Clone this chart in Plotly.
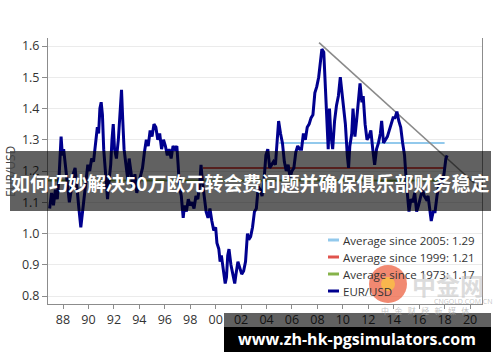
import plotly.graph_objects as go

# ---------------- data ----------------
years = [1986.95, 1987.1, 1987.25, 1987.4, 1987.55, 1987.7, 1987.85, 1987.95, 1988.05, 1988.2,
         1988.35, 1988.5, 1988.65, 1988.8, 1988.95, 1989.1, 1989.25, 1989.4, 1989.5, 1989.65,
         1989.8, 1989.95, 1990.1, 1990.25, 1990.4, 1990.55, 1990.7, 1990.8, 1990.9, 1991.0,
         1991.1, 1991.2, 1991.35, 1991.5, 1991.6, 1991.75, 1991.85, 1991.95, 1992.05, 1992.2,
         1992.35, 1992.5, 1992.6, 1992.7, 1992.8, 1992.95, 1993.1, 1993.2, 1993.35, 1993.5,
         1993.65, 1993.8, 1993.95, 1994.1, 1994.25, 1994.4, 1994.55, 1994.7, 1994.85, 1995.0,
         1995.15, 1995.3, 1995.45, 1995.6, 1995.75, 1995.9, 1996.05, 1996.2, 1996.35, 1996.5,
         1996.65, 1996.8, 1996.95, 1997.05, 1997.15, 1997.3, 1997.45, 1997.55, 1997.7, 1997.85,
         1998.0, 1998.15, 1998.3, 1998.45, 1998.6, 1998.75, 1998.85, 1998.95, 1999.1, 1999.25,
         1999.4, 1999.55, 1999.7, 1999.85, 2000.0, 2000.1, 2000.25, 2000.35, 2000.45, 2000.6,
         2000.75, 2000.85, 2000.95, 2001.05, 2001.2, 2001.35, 2001.5, 2001.6, 2001.75, 2001.9,
         2002.05, 2002.2, 2002.35, 2002.5, 2002.6, 2002.75, 2002.9, 2003.05, 2003.2, 2003.35,
         2003.5, 2003.65, 2003.8, 2003.95, 2004.1, 2004.25, 2004.4, 2004.55, 2004.7, 2004.85,
         2004.95, 2005.1, 2005.25, 2005.4, 2005.55, 2005.7, 2005.85, 2006.0, 2006.15, 2006.3,
         2006.45, 2006.6, 2006.75, 2006.9, 2007.05, 2007.2, 2007.35, 2007.5, 2007.65, 2007.8,
         2007.95, 2008.1, 2008.25, 2008.35, 2008.5, 2008.6, 2008.75, 2008.85, 2008.95, 2009.05,
         2009.2, 2009.35, 2009.5, 2009.65, 2009.8, 2009.9, 2010.05, 2010.2, 2010.35, 2010.45,
         2010.55, 2010.7, 2010.8, 2010.95, 2011.1, 2011.25, 2011.35, 2011.5, 2011.6, 2011.75,
         2011.9, 2012.05, 2012.2, 2012.35, 2012.5, 2012.65, 2012.8, 2012.95, 2013.05, 2013.2,
         2013.35, 2013.5, 2013.65, 2013.8, 2013.95, 2014.1, 2014.25, 2014.4, 2014.55, 2014.7,
         2014.85, 2015.0, 2015.1, 2015.2, 2015.35, 2015.5, 2015.65, 2015.8, 2015.95, 2016.1,
         2016.25, 2016.4, 2016.55, 2016.7, 2016.85, 2016.95, 2017.1, 2017.25, 2017.4, 2017.55,
         2017.65, 2017.8, 2017.95, 2018.1, 2018.2]

eurusd = [1.08, 1.13, 1.09, 1.14, 1.11, 1.19, 1.31, 1.25, 1.27, 1.22,
          1.17, 1.10, 1.14, 1.19, 1.21, 1.13, 1.08, 1.02, 1.06, 1.10,
          1.16, 1.22, 1.20, 1.24, 1.23, 1.29, 1.34, 1.32, 1.40, 1.42,
          1.38, 1.27, 1.18, 1.11, 1.16, 1.22, 1.30, 1.35, 1.27, 1.24,
          1.30, 1.38, 1.46, 1.36, 1.27, 1.22, 1.17, 1.24, 1.19, 1.15,
          1.19, 1.13, 1.16, 1.19, 1.21, 1.26, 1.30, 1.28, 1.33, 1.31,
          1.35, 1.34, 1.30, 1.32, 1.27, 1.30, 1.28, 1.25, 1.27, 1.24,
          1.28, 1.27, 1.28, 1.22, 1.15, 1.12, 1.05, 1.09, 1.07, 1.11,
          1.09, 1.10, 1.08, 1.12, 1.11, 1.16, 1.22, 1.17, 1.12, 1.07,
          1.05, 1.08, 1.04, 1.01, 1.02, 0.97, 0.95, 0.91, 0.93, 0.88,
          0.84, 0.86, 0.93, 0.95, 0.90, 0.87, 0.84, 0.87, 0.91, 0.89,
          0.87, 0.88, 0.91, 1.00, 0.98, 0.99, 1.02, 1.07, 1.08, 1.15,
          1.14, 1.12, 1.17, 1.25, 1.27, 1.21, 1.22, 1.23, 1.22, 1.31,
          1.36, 1.32, 1.29, 1.23, 1.20, 1.22, 1.18, 1.20, 1.21, 1.26,
          1.28, 1.27, 1.27, 1.32, 1.30, 1.34, 1.35, 1.37, 1.38, 1.45,
          1.47, 1.50, 1.56, 1.59, 1.58, 1.48, 1.32, 1.27, 1.40, 1.32,
          1.27, 1.36, 1.41, 1.44, 1.50, 1.46, 1.40, 1.35, 1.25, 1.21,
          1.28, 1.32, 1.40, 1.31, 1.37, 1.44, 1.48, 1.42, 1.44, 1.35,
          1.30, 1.31, 1.33, 1.27, 1.22, 1.27, 1.29, 1.32, 1.36, 1.29,
          1.30, 1.31, 1.33, 1.35, 1.37, 1.37, 1.39, 1.36, 1.34, 1.29,
          1.25, 1.16, 1.12, 1.07, 1.11, 1.10, 1.13, 1.07, 1.09, 1.12,
          1.14, 1.12, 1.11, 1.12, 1.06, 1.04, 1.07, 1.07, 1.12, 1.16,
          1.18, 1.16, 1.19, 1.24, 1.25]

avg_names = ["Average since 2005: 1.29", "Average since 1999: 1.21", "Average since 1973: 1.17"]
avg_values = [1.29, 1.21, 1.17]
avg_start = [2005.0, 1999.0, 1986.82]
avg_end = [2018.0, 2018.0, 2018.0]
avg_colors = ["#92c9ec", "#e0534d", "#86b34a"]

trend_years = [2008.13, 2020.8]
trend_values = [1.611, 1.144]

xtick_vals = list(range(1988, 2021, 2))
xtick_text = ["88", "90", "92", "94", "96", "98", "00", "02", "04", "06", "08", "10",
              "12", "14", "16", "18", "20"]
ytick_vals = [0.8, 0.9, 1.0, 1.1, 1.2, 1.3, 1.4, 1.5, 1.6]

title_text = "如何巧妙解决50万欧元转会费问题并确保俱乐部财务稳定"
site_text = "www.zh-hk-pgsimulators.com"

# ---------------- layout helpers ----------------
W, H = 500, 362
L, R, T, B = 48, 18, 38, 58
PW, PH = W - L - R, H - T - B


def px(x):
    return (x - L) / PW


def py(y):
    return (H - B - y) / PH


BLUE = "#00008f"
FONT = "Open Sans"

fig = go.Figure()

# averages
for n, v, s, e, c in zip(avg_names, avg_values, avg_start, avg_end, avg_colors):
    fig.add_trace(go.Scatter(x=[s, e], y=[v, v], mode="lines", name=n,
                             line=dict(color=c, width=2), showlegend=False))

# trend line
fig.add_trace(go.Scatter(x=trend_years, y=trend_values, mode="lines",
                         line=dict(color="#8a8a8a", width=1.6), showlegend=False,
                         cliponaxis=False))

# EUR/USD
fig.add_trace(go.Scatter(x=years, y=eurusd, mode="lines", name="EUR/USD",
                         line=dict(color=BLUE, width=3), showlegend=False))

shapes = []
annotations = []

# manual legend
leg_rows = [240, 257, 274, 291]
leg_names = avg_names + ["EUR/USD"]
leg_colors = avg_colors + [BLUE]
for yy, n, c in zip(leg_rows, leg_names, leg_colors):
    shapes.append(dict(type="line", xref="paper", yref="paper",
                       x0=px(328), x1=px(339), y0=py(yy), y1=py(yy),
                       line=dict(color=c, width=3)))
    annotations.append(dict(text=n, xref="paper", yref="paper", x=px(341), y=py(yy),
                            xanchor="left", yanchor="middle", showarrow=False,
                            font=dict(family=FONT, size=11.5, color="#333333")))

# y axis title
annotations.append(dict(text="EUR/USD", xref="paper", yref="paper", x=px(10), y=py(172),
                        textangle=-90, xanchor="center", yanchor="middle", showarrow=False,
                        font=dict(family=FONT, size=12, color="#444444")))

# watermark
shapes.append(dict(type="circle", xref="paper", yref="paper", layer="above",
                   x0=px(369), x1=px(407), y0=py(265), y1=py(303),
                   fillcolor="rgba(236,92,58,0.72)", line=dict(width=0)))
shapes.append(dict(type="circle", xref="paper", yref="paper", layer="above",
                   x0=px(381), x1=px(395), y0=py(277), y1=py(291),
                   fillcolor="rgba(250,190,70,0.85)", line=dict(width=0)))
annotations.append(dict(text="<b>中金网</b>", xref="paper", yref="paper", x=px(448), y=py(284),
                        xanchor="center", yanchor="middle", showarrow=False,
                        font=dict(family="Noto Sans CJK SC", size=24, color="rgba(190,190,190,0.55)")))
annotations.append(dict(text="CNGOLD.COM.CN", xref="paper", yref="paper", x=px(463), y=py(301),
                        xanchor="center", yanchor="middle", showarrow=False,
                        font=dict(family=FONT, size=7, color="rgba(170,170,170,0.7)")))
annotations.append(dict(text="中   金   财   经   新   媒   体", xref="paper", yref="paper",
                        x=px(425), y=py(310), xanchor="center", yanchor="middle", showarrow=False,
                        font=dict(family="Noto Sans CJK SC", size=8, color="rgba(170,170,170,0.7)")))

# title banner
shapes.append(dict(type="rect", xref="paper", yref="paper", layer="above",
                   x0=px(10), x1=px(491), y0=py(211), y1=py(151),
                   fillcolor="rgba(0,0,0,0.62)", line=dict(width=0)))
annotations.append(dict(text="<b>" + title_text + "</b>", xref="paper", yref="paper",
                        x=px(250), y=py(182), xanchor="center", yanchor="middle", showarrow=False,
                        font=dict(family="Noto Sans CJK SC", size=19, color="white")))

# bottom site box
shapes.append(dict(type="rect", xref="paper", yref="paper", layer="above",
                   x0=px(224), x1=px(491), y0=py(327), y1=py(313),
                   fillcolor="rgba(0,0,0,0.62)", line=dict(width=0)))
shapes.append(dict(type="rect", xref="paper", yref="paper", layer="above",
                   x0=px(224), x1=px(491), y0=py(352), y1=py(327),
                   fillcolor="black", line=dict(width=0)))
annotations.append(dict(text="<b>" + site_text + "</b>", xref="paper", yref="paper",
                        x=px(357), y=py(339), xanchor="center", yanchor="middle", showarrow=False,
                        font=dict(family=FONT, size=16, color="white")))

fig.update_layout(
    width=W, height=H,
    margin=dict(l=L, r=R, t=T, b=B, pad=0),
    paper_bgcolor="white", plot_bgcolor="white",
    showlegend=False,
    shapes=shapes, annotations=annotations,
    font=dict(family=FONT, size=12, color="#333333"),
)
fig.update_xaxes(range=[1986.82, 2020.94], tickvals=xtick_vals, ticktext=xtick_text,
                 showgrid=False, zeroline=False, showline=True, linecolor="#8c8c8c",
                 linewidth=1, ticks="outside", ticklen=4, tickcolor="#8c8c8c",
                 tickfont=dict(family=FONT, size=12.5, color="#333333"))
fig.update_yaxes(range=[0.7744, 1.6256], tickvals=ytick_vals, tickformat=".1f",
                 showgrid=True, gridcolor="#ebebeb", gridwidth=1, zeroline=False,
                 showline=True, mirror=True, linecolor="#8c8c8c", linewidth=1,
                 ticks="outside", ticklen=5, tickcolor="#8c8c8c",
                 tickfont=dict(family=FONT, size=12.5, color="#333333"))

fig.write_html("out.html")
